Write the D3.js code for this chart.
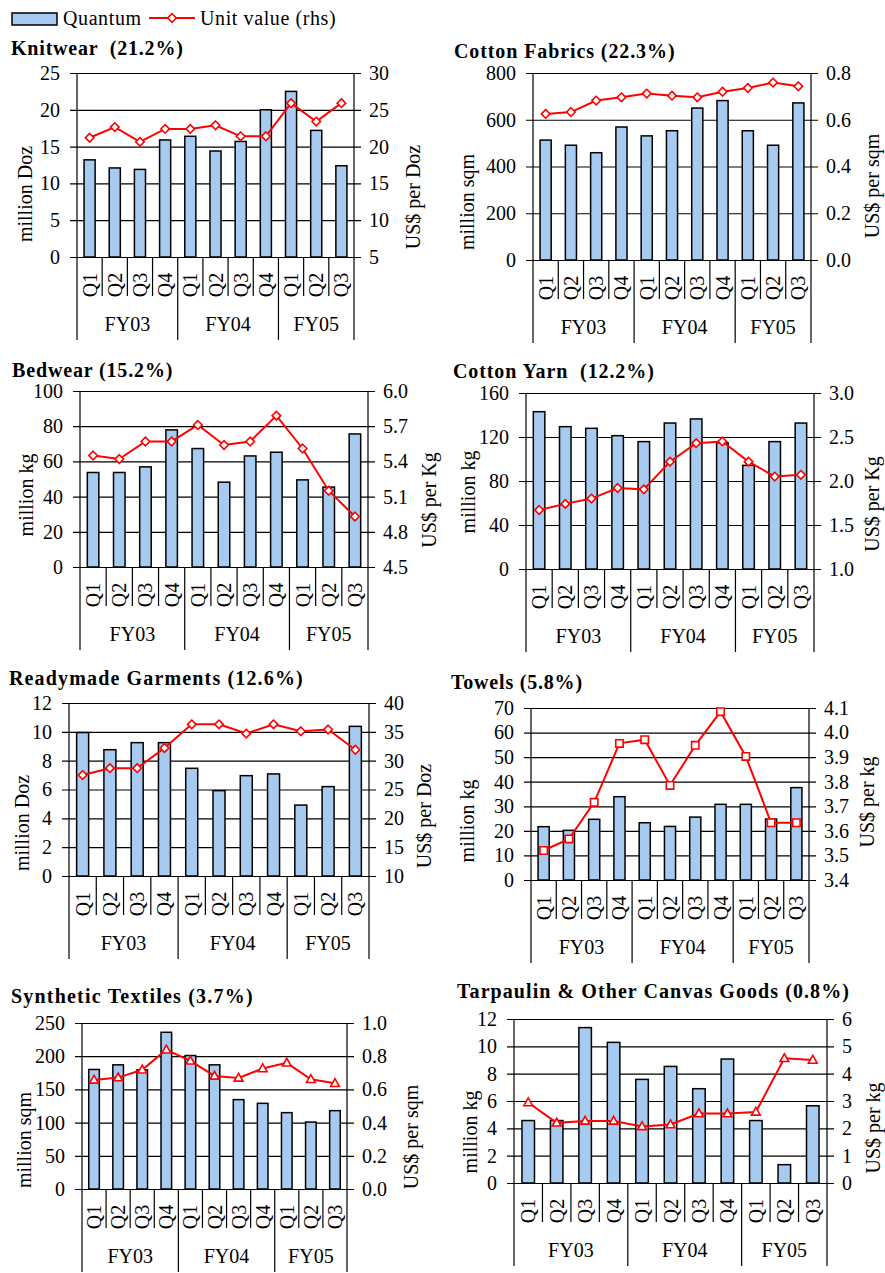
<!DOCTYPE html>
<html>
<head>
<meta charset="utf-8">
<script src="https://cdn.jsdelivr.net/npm/d3@7"></script>
</head>
<body style="margin:0;padding:0;background:#fff">
<svg id="chart" width="885" height="1273" style="display:block;font-family:'Liberation Serif'"></svg>
<script>
// ---------------- DATA ----------------
const quarterLabels = ["Q1","Q2","Q3","Q4","Q1","Q2","Q3","Q4","Q1","Q2","Q3"];
const fiscalYears = ["FY03","FY04","FY05"];
const quartersPerYear = [4, 4, 3];

const legendLabels = ["Quantum", "Unit value (rhs)"];

const panelTitles = [
  "Knitwear  (21.2%)", "Cotton Fabrics (22.3%)", "Bedwear (15.2%)", "Cotton Yarn  (12.2%)",
  "Readymade Garments (12.6%)", "Towels (5.8%)", "Synthetic Textiles (3.7%)",
  "Tarpaulin & Other Canvas Goods (0.8%)"
];
const leftAxisTitles = ["million Doz","million sqm","million kg","million kg","million Doz","million kg","million sqm","million kg"];
const rightAxisTitles = ["US$ per Doz","US$ per sqm","US$ per Kg","US$ per Kg","US$ per Doz","US$ per kg","US$ per sqm","US$ per kg"];

const knitwearQuantum   = [13.2, 12.1, 11.9, 15.9, 16.4, 14.4, 15.7, 20.0, 22.5, 17.2, 12.4];
const knitwearUnitValue = [21.2, 22.65, 20.65, 22.4, 22.4, 22.9, 21.4, 21.4, 25.9, 23.4, 25.9];
const knitwearLeftTicks = [0, 5, 10, 15, 20, 25];
const knitwearRightTicks = [5, 10, 15, 20, 25, 30];

const cottonFabricsQuantum   = [513, 491, 459, 569, 531, 553, 650, 682, 553, 491, 672];
const cottonFabricsUnitValue = [0.625, 0.633, 0.682, 0.696, 0.712, 0.703, 0.696, 0.72, 0.736, 0.759, 0.743];
const cottonFabricsLeftTicks = [0, 200, 400, 600, 800];
const cottonFabricsRightTicks = [0.0, 0.2, 0.4, 0.6, 0.8];

const bedwearQuantum   = [53.7, 53.7, 56.9, 77.9, 67.3, 48.2, 63.1, 65.2, 49.5, 45.4, 75.6];
const bedwearUnitValue = [5.45, 5.42, 5.57, 5.57, 5.71, 5.54, 5.57, 5.79, 5.51, 5.15, 4.93];
const bedwearLeftTicks = [0, 20, 40, 60, 80, 100];
const bedwearRightTicks = [4.5, 4.8, 5.1, 5.4, 5.7, 6.0];

const cottonYarnQuantum   = [143, 129.4, 127.9, 121.2, 115.8, 132.7, 136.4, 114.8, 94.2, 115.8, 132.7];
const cottonYarnUnitValue = [1.67, 1.74, 1.80, 1.92, 1.905, 2.22, 2.43, 2.45, 2.22, 2.05, 2.07];
const cottonYarnLeftTicks = [0, 40, 80, 120, 160];
const cottonYarnRightTicks = [1.0, 1.5, 2.0, 2.5, 3.0];

const garmentsQuantum   = [9.95, 8.76, 9.25, 9.25, 7.47, 5.92, 6.96, 7.08, 4.92, 6.2, 10.38];
const garmentsUnitValue = [27.5, 28.7, 28.7, 32.2, 36.3, 36.3, 34.7, 36.3, 35.1, 35.4, 31.9];
const garmentsLeftTicks = [0, 2, 4, 6, 8, 10, 12];
const garmentsRightTicks = [10, 15, 20, 25, 30, 35, 40];

const towelsQuantum   = [21.7, 20.2, 24.7, 33.9, 23.3, 21.8, 25.6, 30.8, 30.8, 24.8, 37.6];
const towelsUnitValue = [3.52, 3.567, 3.716, 3.956, 3.971, 3.785, 3.948, 4.085, 3.903, 3.633, 3.633];
const towelsLeftTicks = [0, 10, 20, 30, 40, 50, 60, 70];
const towelsRightTicks = [3.4, 3.5, 3.6, 3.7, 3.8, 3.9, 4.0, 4.1];

const syntheticQuantum   = [180, 187, 179.4, 236, 201, 187, 134.6, 129, 115, 100.8, 118];
const syntheticUnitValue = [0.657, 0.671, 0.718, 0.839, 0.772, 0.681, 0.669, 0.726, 0.760, 0.661, 0.637];
const syntheticLeftTicks = [0, 50, 100, 150, 200, 250];
const syntheticRightTicks = [0.0, 0.2, 0.4, 0.6, 0.8, 1.0];

const tarpaulinQuantum   = [4.57, 4.57, 11.37, 10.29, 7.58, 8.53, 6.9, 9.07, 4.57, 1.34, 5.65];
const tarpaulinUnitValue = [2.945, 2.2, 2.27, 2.27, 2.07, 2.14, 2.54, 2.54, 2.6, 4.56, 4.5];
const tarpaulinLeftTicks = [0, 2, 4, 6, 8, 10, 12];
const tarpaulinRightTicks = [0, 1, 2, 3, 4, 5, 6];

// ---------------- LAYOUT / STYLE ----------------
const BAR_FILL = "#a6caf0";
const LINE_RED = "#ff0000";
const FF = "Liberation Serif";
const FONT = 20;

const svg = d3.select("#chart");

const panels = [
  { q: knitwearQuantum, v: knitwearUnitValue, lt: knitwearLeftTicks, rt: knitwearRightTicks, rf: "d", marker: "diamond",
    L: 77, R: 354, T: 73, B: 257, titleX: 11, titleY: 48, ls: 0.8, lx: 25, ly: 194, rx: 413, ry: 197 },
  { q: cottonFabricsQuantum, v: cottonFabricsUnitValue, lt: cottonFabricsLeftTicks, rt: cottonFabricsRightTicks, rf: ".1f", marker: "diamond",
    L: 533, R: 811, T: 73, B: 260, titleX: 454, titleY: 51, ls: 0.9, lx: 467, ly: 202, rx: 872, ry: 186 },
  { q: bedwearQuantum, v: bedwearUnitValue, lt: bedwearLeftTicks, rt: bedwearRightTicks, rf: ".1f", marker: "diamond",
    L: 80, R: 368, T: 391, B: 567, titleX: 12, titleY: 370, ls: 0.85, lx: 26, ly: 495, rx: 429, ry: 500 },
  { q: cottonYarnQuantum, v: cottonYarnUnitValue, lt: cottonYarnLeftTicks, rt: cottonYarnRightTicks, rf: ".1f", marker: "diamond",
    L: 526, R: 814, T: 393, B: 569, titleX: 453, titleY: 371, ls: 0.9, lx: 468, ly: 492, rx: 872, ry: 504 },
  { q: garmentsQuantum, v: garmentsUnitValue, lt: garmentsLeftTicks, rt: garmentsRightTicks, rf: "d", marker: "diamond",
    L: 69, R: 369, T: 703, B: 876, titleX: 9, titleY: 678, ls: 1.15, lx: 22, ly: 823, rx: 424, ry: 816 },
  { q: towelsQuantum, v: towelsUnitValue, lt: towelsLeftTicks, rt: towelsRightTicks, rf: ".1f", marker: "square",
    L: 531, R: 809, T: 708, B: 880, titleX: 451, titleY: 682, ls: 0.8, lx: 467, ly: 821, rx: 867, ry: 802 },
  { q: syntheticQuantum, v: syntheticUnitValue, lt: syntheticLeftTicks, rt: syntheticRightTicks, rf: ".1f", marker: "triangle",
    L: 82, R: 347, T: 1023, B: 1189, titleX: 11, titleY: 996, ls: 1.2, lx: 24, ly: 1140, rx: 411, ry: 1137 },
  { q: tarpaulinQuantum, v: tarpaulinUnitValue, lt: tarpaulinLeftTicks, rt: tarpaulinRightTicks, rf: "d", marker: "triangle",
    L: 514, R: 827, T: 1019, B: 1183, titleX: 457, titleY: 991, ls: 1.07, lx: 470, ly: 1132, rx: 873, ry: 1128 }
];

function markerPath(type) {
  if (type === "square") return "M-3.7,-3.7H3.7V3.7H-3.7Z";
  if (type === "triangle") return "M0,-4.6L4.4,3.2H-4.4Z";
  return "M0,-4.3L4.3,0L0,4.3L-4.3,0Z";
}

function styleText(sel, size, weight) {
  return sel.style("font-family", FF).style("font-size", size + "px")
    .style("font-weight", weight || "normal").attr("fill", "#000");
}

const idx = d3.range(quarterLabels.length);

panels.forEach((p, i) => {
  const g = svg.append("g");
  const x = d3.scaleBand().domain(idx).range([p.L, p.R]).padding(0);
  const xb = d3.scaleBand().domain(idx).range([p.L, p.R]).paddingInner(0.56).paddingOuter(0.28);
  const yL = d3.scaleLinear().domain(d3.extent(p.lt)).range([p.B, p.T]);
  const yR = d3.scaleLinear().domain(d3.extent(p.rt)).range([p.B, p.T]);

  // gridlines with outward tick marks on both sides
  g.append("g")
    .attr("transform", `translate(${p.L - 7},0)`)
    .call(d3.axisRight(yL).tickValues(p.lt).tickSize(p.R - p.L + 14).tickFormat(""))
    .call(a => a.select(".domain").remove())
    .call(a => a.selectAll("line").attr("stroke", "#000").attr("stroke-width", 1.2));

  // left axis labels
  g.append("g")
    .attr("transform", `translate(${p.L},0)`)
    .call(d3.axisLeft(yL).tickValues(p.lt).tickSize(0).tickPadding(17).tickFormat(d3.format("d")))
    .call(a => a.select(".domain").remove())
    .call(a => styleText(a.selectAll("text"), FONT));

  // right axis labels
  g.append("g")
    .attr("transform", `translate(${p.R},0)`)
    .call(d3.axisRight(yR).tickValues(p.rt).tickSize(0).tickPadding(15).tickFormat(d3.format(p.rf)))
    .call(a => a.select(".domain").remove())
    .call(a => styleText(a.selectAll("text"), FONT));

  // bars
  g.selectAll("rect.bar").data(p.q).join("rect")
    .attr("class", "bar")
    .attr("x", (d, j) => xb(j))
    .attr("width", xb.bandwidth())
    .attr("y", d => yL(d))
    .attr("height", d => yL(0) - yL(d))
    .attr("fill", BAR_FILL)
    .attr("stroke", "#000")
    .attr("stroke-width", 1.5);

  // vertical frame lines + category separators
  const groupBounds = [0];
  quartersPerYear.reduce((acc, n) => { groupBounds.push(acc + n); return acc + n; }, 0);
  const boundaries = d3.range(quarterLabels.length + 1);
  g.selectAll("line.sep").data(boundaries).join("line")
    .attr("class", "sep")
    .attr("x1", k => k < quarterLabels.length ? x(k) : p.R)
    .attr("x2", k => k < quarterLabels.length ? x(k) : p.R)
    .attr("y1", k => (k === 0 || k === quarterLabels.length) ? p.T : p.B)
    .attr("y2", k => groupBounds.includes(k) ? p.B + 83 : p.B + 39)
    .attr("stroke", "#000")
    .attr("stroke-width", 1.2);

  // quarter labels
  styleText(g.selectAll("text.q").data(quarterLabels).join("text"), FONT)
    .attr("class", "q")
    .attr("transform", (d, j) => `translate(${x(j) + x.bandwidth() / 2},${p.B + 28}) rotate(-90)`)
    .attr("text-anchor", "middle")
    .attr("dy", "0.35em")
    .text(d => d);

  // fiscal year labels
  styleText(g.selectAll("text.fy").data(fiscalYears).join("text"), FONT)
    .attr("class", "fy")
    .attr("x", (d, k) => (x(groupBounds[k]) + (groupBounds[k + 1] < quarterLabels.length ? x(groupBounds[k + 1]) : p.R)) / 2)
    .attr("y", p.B + 67)
    .attr("dy", "0.35em")
    .attr("text-anchor", "middle")
    .text(d => d);

  // line
  const line = d3.line().x((d, j) => x(j) + x.bandwidth() / 2).y(d => yR(d));
  g.append("path").datum(p.v)
    .attr("d", line)
    .attr("fill", "none")
    .attr("stroke", LINE_RED)
    .attr("stroke-width", 2);
  g.selectAll("path.mk").data(p.v).join("path")
    .attr("class", "mk")
    .attr("transform", (d, j) => `translate(${x(j) + x.bandwidth() / 2},${yR(d)})`)
    .attr("d", markerPath(p.marker))
    .attr("fill", "#fff")
    .attr("stroke", LINE_RED)
    .attr("stroke-width", 1.6);

  // title
  styleText(g.append("text"), 20, "bold")
    .attr("x", p.titleX).attr("y", p.titleY).attr("dy", "0.35em")
    .style("letter-spacing", p.ls + "px")
    .style("white-space", "pre")
    .text(panelTitles[i]);

  // axis titles
  styleText(g.append("text"), FONT)
    .attr("transform", `translate(${p.lx},${p.ly}) rotate(-90)`)
    .attr("text-anchor", "middle").attr("dy", "0.35em")
    .text(leftAxisTitles[i]);
  styleText(g.append("text"), FONT)
    .attr("transform", `translate(${p.rx},${p.ry}) rotate(-90)`)
    .attr("text-anchor", "middle").attr("dy", "0.35em")
    .text(rightAxisTitles[i]);
});

// ---------------- LEGEND ----------------
const lg = svg.append("g");
lg.append("rect").attr("x", 12).attr("y", 13).attr("width", 45).attr("height", 12)
  .attr("fill", BAR_FILL).attr("stroke", "#000").attr("stroke-width", 1.5);
styleText(lg.append("text"), 20).attr("x", 63).attr("y", 18).attr("dy", "0.35em")
  .style("letter-spacing", "0.6px").text(legendLabels[0]);
lg.append("line").attr("x1", 149).attr("x2", 195).attr("y1", 18).attr("y2", 18)
  .attr("stroke", LINE_RED).attr("stroke-width", 2);
lg.append("path").attr("transform", "translate(172,18)").attr("d", markerPath("diamond"))
  .attr("fill", "#fff").attr("stroke", LINE_RED).attr("stroke-width", 1.6);
styleText(lg.append("text"), 20).attr("x", 200).attr("y", 18).attr("dy", "0.35em")
  .style("letter-spacing", "0.6px").style("white-space", "pre").text(legendLabels[1]);
</script>
</body>
</html>
